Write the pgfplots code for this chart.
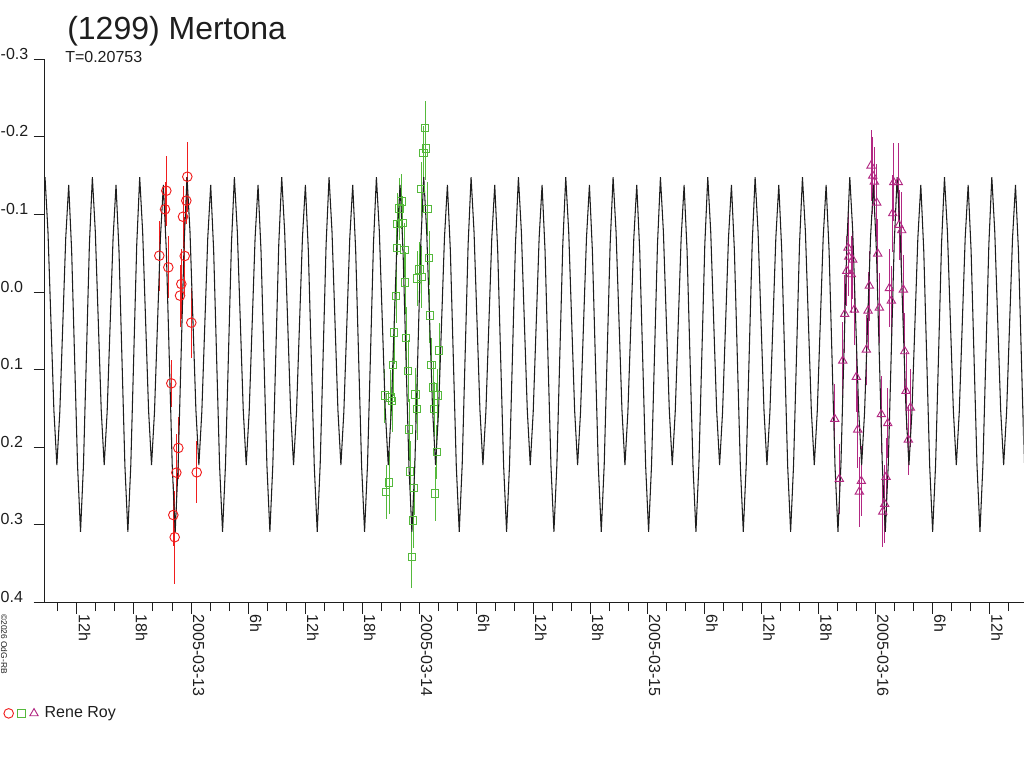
\documentclass[border=0pt]{standalone}
\usepackage{fontspec}
\setmainfont{Liberation Sans}
\usepackage{pgfplots}
\pgfplotsset{compat=1.18}
\definecolor{cred}{RGB}{240,30,30}
\definecolor{cgreen}{RGB}{85,185,60}
\definecolor{cmag}{RGB}{178,40,130}
\definecolor{ccurve}{RGB}{30,30,30}
\begin{document}
\begin{tikzpicture}
\path[use as bounding box] (0bp,0bp) rectangle (768bp,576bp);
\begin{axis}[
  at={(33.75bp,124.2bp)}, anchor=south west,
  scale only axis, width=733.9bp, height=407.4bp,
  xmin=-0.6401, xmax=3.6497, ymin=-0.3, ymax=0.4, y dir=reverse,
  axis x line=bottom, axis y line=left,
  axis line style={-, line width=0.75bp, color=ccurve},
  tick align=outside, major tick length=8.5bp, minor tick length=6.5bp,
  every tick/.style={line width=0.75bp, color=ccurve},
  xtick={-0.5,-0.25,...,3.5},
  xticklabels={12h,18h,2005-03-13,6h,12h,18h,2005-03-14,6h,12h,18h,2005-03-15,6h,12h,18h,2005-03-16,6h,12h},
  minor xtick={-0.58333,-0.5,...,3.6},
  ytick={-0.3,-0.2,-0.1,0,0.1,0.2,0.3,0.4},
  yticklabels={-0.3,-0.2,-0.1,0.0,0.1,0.2,0.3,0.4},
  tick label style={font=\fontsize{12bp}{14bp}\selectfont, color=ccurve, inner sep=0pt},
  xticklabel style={xshift=1.5bp, yshift=-0.5bp, rotate=-90, anchor=base west},
  yticklabel style={xshift=-24.9bp, anchor=base west},
  legend columns=3,
  legend style={draw=none, fill=none, inner sep=0pt, outer sep=0pt,
    at={(axis description cs:-0.0429,-0.2043)}, anchor=west,
    font=\fontsize{12bp}{14bp}\selectfont, text=ccurve,
    nodes={inner sep=0pt},
    /tikz/every even column/.style={column sep=0pt},
    /tikz/every odd column/.style={column sep=0pt}},
  legend image code/.code={\path (-3.9bp,0bp) (3.9bp,0bp); \draw[#1] plot coordinates {(0bp,0bp)};},
]
\addplot[only marks, mark=o, mark size=3.6bp, cred, line width=0.7bp,
  error bars/.cd, y dir=both, y explicit, error mark=none]
  table[x=x, y=y, y error=e] {
x y e
-0.1083 -0.1305 0.045
-0.1140 -0.1066 0.035
-0.0162 -0.1486 0.045
-0.0206 -0.1177 0.030
-0.0351 -0.0970 0.040
-0.1390 -0.0468 0.045
-0.0276 -0.0464 0.050
-0.0995 -0.0318 0.040
-0.0425 -0.0103 0.045
-0.0482 0.0047 0.040
0.0013 0.0395 0.045
-0.0864 0.1177 0.030
-0.0557 0.2010 0.040
-0.0644 0.2328 0.050
0.0250 0.2324 0.040
-0.0776 0.2874 0.040
-0.0715 0.3160 0.060
};
\addlegendentry{}
\addplot[only marks, mark=square, mark size=2.8bp, cgreen, line width=0.7bp,
  error bars/.cd, y dir=both, y explicit, error mark=none]
  table[x=x, y=y, y error=e] {
x y e
1.0259 -0.2117 0.035
1.0289 -0.1847 0.040
1.0184 -0.1795 0.035
1.0083 -0.1331 0.035
0.9220 -0.1168 0.035
0.9132 -0.1074 0.040
1.0359 -0.1070 0.035
0.9263 -0.0893 0.035
0.9044 -0.0880 0.040
0.9018 -0.0571 0.035
0.9351 -0.0545 0.035
1.0434 -0.0442 0.035
1.0009 -0.0292 0.035
1.0096 -0.0197 0.040
0.9921 -0.0176 0.035
0.9382 -0.0120 0.040
0.8987 0.0048 0.035
1.0465 0.0305 0.035
0.8900 0.0524 0.040
0.9426 0.0589 0.040
1.0872 0.0752 0.035
0.8856 0.0937 0.040
0.9513 0.1018 0.040
1.0535 0.0941 0.035
0.8492 0.1336 0.035
0.8737 0.1357 0.035
0.8812 0.1405 0.040
0.9833 0.1323 0.035
1.0609 0.1233 0.035
1.0815 0.1336 0.035
0.9908 0.1504 0.040
1.0653 0.1508 0.035
0.9557 0.1774 0.040
1.0772 0.2058 0.035
0.9601 0.2315 0.040
0.9776 0.2522 0.035
0.8680 0.2457 0.040
0.8549 0.2577 0.035
1.0697 0.2599 0.035
0.9733 0.2947 0.035
0.9676 0.3411 0.040
};
\addlegendentry{}
\addplot[only marks, mark=triangle, mark size=3.6bp, cmag, line width=0.7bp,
  error bars/.cd, y dir=both, y explicit, error mark=none]
  table[x=x, y=y, y error=e] {
x y e
2.9811 -0.1628 0.046
2.9886 -0.1499 0.050
2.9956 -0.1422 0.045
3.0061 -0.1151 0.050
3.0807 -0.1414 0.050
3.1008 -0.1414 0.050
3.0763 -0.1014 0.050
3.1039 -0.0863 0.045
3.1157 -0.0795 0.050
3.0105 -0.0494 0.045
2.8803 -0.0571 0.050
2.8834 -0.0455 0.050
2.9010 -0.0416 0.050
2.8746 -0.0271 0.045
2.8948 -0.0228 0.050
2.9737 -0.0081 0.045
3.0614 -0.0048 0.050
3.1228 -0.0030 0.045
3.0701 0.0112 0.045
3.0175 0.0202 0.045
2.9079 0.0228 0.045
2.9680 0.0241 0.050
2.8658 0.0284 0.050
2.9605 0.0744 0.045
3.1289 0.0765 0.050
2.8571 0.0885 0.050
2.9167 0.1095 0.045
3.1346 0.1276 0.050
3.1535 0.1491 0.050
3.1447 0.1903 0.045
2.8220 0.1637 0.045
3.0263 0.1576 0.050
3.0543 0.1692 0.045
2.9228 0.1774 0.050
2.8422 0.2410 0.045
2.9386 0.2436 0.045
2.9299 0.2573 0.045
3.0469 0.2384 0.050
3.0412 0.2732 0.050
3.0325 0.2831 0.045
};
\addlegendentry{\hspace{3.75bp}Rene Roy}
\addplot[forget plot, ccurve, line width=0.8bp, mark=none] coordinates {
(-0.64000,-0.148) (-0.62703,-0.0775) (-0.61406,0.0375) (-0.60109,0.1525) (-0.58812,0.223) (-0.57515,0.1544) (-0.56218,0.0425) (-0.54921,-0.0694) (-0.53623,-0.138) (-0.52326,-0.0531) (-0.51029,0.0855) (-0.49732,0.2241) (-0.48435,0.309) (-0.47138,0.2222) (-0.45841,0.0805) (-0.44544,-0.0612)
(-0.43247,-0.148) (-0.41950,-0.0775) (-0.40653,0.0375) (-0.39356,0.1525) (-0.38059,0.223) (-0.36762,0.1544) (-0.35465,0.0425) (-0.34168,-0.0694) (-0.32870,-0.138) (-0.31573,-0.0531) (-0.30276,0.0855) (-0.28979,0.2241) (-0.27682,0.309) (-0.26385,0.2222) (-0.25088,0.0805) (-0.23791,-0.0612)
(-0.22494,-0.148) (-0.21197,-0.0775) (-0.19900,0.0375) (-0.18603,0.1525) (-0.17306,0.223) (-0.16009,0.1544) (-0.14712,0.0425) (-0.13415,-0.0694) (-0.12117,-0.138) (-0.10820,-0.0531) (-0.09523,0.0855) (-0.08226,0.2241) (-0.06929,0.309) (-0.05632,0.2222) (-0.04335,0.0805) (-0.03038,-0.0612)
(-0.01741,-0.148) (-0.00444,-0.0775) (0.00853,0.0375) (0.02150,0.1525) (0.03447,0.223) (0.04744,0.1544) (0.06041,0.0425) (0.07338,-0.0694) (0.08636,-0.138) (0.09933,-0.0531) (0.11230,0.0855) (0.12527,0.2241) (0.13824,0.309) (0.15121,0.2222) (0.16418,0.0805) (0.17715,-0.0612)
(0.19012,-0.148) (0.20309,-0.0775) (0.21606,0.0375) (0.22903,0.1525) (0.24200,0.223) (0.25497,0.1544) (0.26794,0.0425) (0.28091,-0.0694) (0.29389,-0.138) (0.30686,-0.0531) (0.31983,0.0855) (0.33280,0.2241) (0.34577,0.309) (0.35874,0.2222) (0.37171,0.0805) (0.38468,-0.0612)
(0.39765,-0.148) (0.41062,-0.0775) (0.42359,0.0375) (0.43656,0.1525) (0.44953,0.223) (0.46250,0.1544) (0.47547,0.0425) (0.48844,-0.0694) (0.50142,-0.138) (0.51439,-0.0531) (0.52736,0.0855) (0.54033,0.2241) (0.55330,0.309) (0.56627,0.2222) (0.57924,0.0805) (0.59221,-0.0612)
(0.60518,-0.148) (0.61815,-0.0775) (0.63112,0.0375) (0.64409,0.1525) (0.65706,0.223) (0.67003,0.1544) (0.68300,0.0425) (0.69597,-0.0694) (0.70895,-0.138) (0.72192,-0.0531) (0.73489,0.0855) (0.74786,0.2241) (0.76083,0.309) (0.77380,0.2222) (0.78677,0.0805) (0.79974,-0.0612)
(0.81271,-0.148) (0.82568,-0.0775) (0.83865,0.0375) (0.85162,0.1525) (0.86459,0.223) (0.87756,0.1544) (0.89053,0.0425) (0.90350,-0.0694) (0.91648,-0.138) (0.92945,-0.0531) (0.94242,0.0855) (0.95539,0.2241) (0.96836,0.309) (0.98133,0.2222) (0.99430,0.0805) (1.00727,-0.0612)
(1.02024,-0.148) (1.03321,-0.0775) (1.04618,0.0375) (1.05915,0.1525) (1.07212,0.223) (1.08509,0.1544) (1.09806,0.0425) (1.11103,-0.0694) (1.12401,-0.138) (1.13698,-0.0531) (1.14995,0.0855) (1.16292,0.2241) (1.17589,0.309) (1.18886,0.2222) (1.20183,0.0805) (1.21480,-0.0612)
(1.22777,-0.148) (1.24074,-0.0775) (1.25371,0.0375) (1.26668,0.1525) (1.27965,0.223) (1.29262,0.1544) (1.30559,0.0425) (1.31856,-0.0694) (1.33154,-0.138) (1.34451,-0.0531) (1.35748,0.0855) (1.37045,0.2241) (1.38342,0.309) (1.39639,0.2222) (1.40936,0.0805) (1.42233,-0.0612)
(1.43530,-0.148) (1.44827,-0.0775) (1.46124,0.0375) (1.47421,0.1525) (1.48718,0.223) (1.50015,0.1544) (1.51312,0.0425) (1.52609,-0.0694) (1.53907,-0.138) (1.55204,-0.0531) (1.56501,0.0855) (1.57798,0.2241) (1.59095,0.309) (1.60392,0.2222) (1.61689,0.0805) (1.62986,-0.0612)
(1.64283,-0.148) (1.65580,-0.0775) (1.66877,0.0375) (1.68174,0.1525) (1.69471,0.223) (1.70768,0.1544) (1.72065,0.0425) (1.73362,-0.0694) (1.74660,-0.138) (1.75957,-0.0531) (1.77254,0.0855) (1.78551,0.2241) (1.79848,0.309) (1.81145,0.2222) (1.82442,0.0805) (1.83739,-0.0612)
(1.85036,-0.148) (1.86333,-0.0775) (1.87630,0.0375) (1.88927,0.1525) (1.90224,0.223) (1.91521,0.1544) (1.92818,0.0425) (1.94115,-0.0694) (1.95413,-0.138) (1.96710,-0.0531) (1.98007,0.0855) (1.99304,0.2241) (2.00601,0.309) (2.01898,0.2222) (2.03195,0.0805) (2.04492,-0.0612)
(2.05789,-0.148) (2.07086,-0.0775) (2.08383,0.0375) (2.09680,0.1525) (2.10977,0.223) (2.12274,0.1544) (2.13571,0.0425) (2.14868,-0.0694) (2.16166,-0.138) (2.17463,-0.0531) (2.18760,0.0855) (2.20057,0.2241) (2.21354,0.309) (2.22651,0.2222) (2.23948,0.0805) (2.25245,-0.0612)
(2.26542,-0.148) (2.27839,-0.0775) (2.29136,0.0375) (2.30433,0.1525) (2.31730,0.223) (2.33027,0.1544) (2.34324,0.0425) (2.35621,-0.0694) (2.36919,-0.138) (2.38216,-0.0531) (2.39513,0.0855) (2.40810,0.2241) (2.42107,0.309) (2.43404,0.2222) (2.44701,0.0805) (2.45998,-0.0612)
(2.47295,-0.148) (2.48592,-0.0775) (2.49889,0.0375) (2.51186,0.1525) (2.52483,0.223) (2.53780,0.1544) (2.55077,0.0425) (2.56374,-0.0694) (2.57672,-0.138) (2.58969,-0.0531) (2.60266,0.0855) (2.61563,0.2241) (2.62860,0.309) (2.64157,0.2222) (2.65454,0.0805) (2.66751,-0.0612)
(2.68048,-0.148) (2.69345,-0.0775) (2.70642,0.0375) (2.71939,0.1525) (2.73236,0.223) (2.74533,0.1544) (2.75830,0.0425) (2.77127,-0.0694) (2.78425,-0.138) (2.79722,-0.0531) (2.81019,0.0855) (2.82316,0.2241) (2.83613,0.309) (2.84910,0.2222) (2.86207,0.0805) (2.87504,-0.0612)
(2.88801,-0.148) (2.90098,-0.0775) (2.91395,0.0375) (2.92692,0.1525) (2.93989,0.223) (2.95286,0.1544) (2.96583,0.0425) (2.97880,-0.0694) (2.99178,-0.138) (3.00475,-0.0531) (3.01772,0.0855) (3.03069,0.2241) (3.04366,0.309) (3.05663,0.2222) (3.06960,0.0805) (3.08257,-0.0612)
(3.09554,-0.148) (3.10851,-0.0775) (3.12148,0.0375) (3.13445,0.1525) (3.14742,0.223) (3.16039,0.1544) (3.17336,0.0425) (3.18633,-0.0694) (3.19931,-0.138) (3.21228,-0.0531) (3.22525,0.0855) (3.23822,0.2241) (3.25119,0.309) (3.26416,0.2222) (3.27713,0.0805) (3.29010,-0.0612)
(3.30307,-0.148) (3.31604,-0.0775) (3.32901,0.0375) (3.34198,0.1525) (3.35495,0.223) (3.36792,0.1544) (3.38089,0.0425) (3.39386,-0.0694) (3.40684,-0.138) (3.41981,-0.0531) (3.43278,0.0855) (3.44575,0.2241) (3.45872,0.309) (3.47169,0.2222) (3.48466,0.0805) (3.49763,-0.0612)
(3.51060,-0.148) (3.52357,-0.0775) (3.53654,0.0375) (3.54951,0.1525) (3.56248,0.223) (3.57545,0.1544) (3.58842,0.0425) (3.60139,-0.0694) (3.61437,-0.138) (3.62734,-0.0531) (3.64031,0.0855) (3.65328,0.2241)
};
\end{axis}
\node[anchor=base west, inner sep=0pt, font=\fontsize{24bp}{28bp}\selectfont, text=ccurve] at (50.25bp,546bp) {(1299) Mertona};
\node[anchor=base west, inner sep=0pt, font=\fontsize{12bp}{14bp}\selectfont, text=ccurve] at (48.75bp,528.75bp) {T=0.20753};
\node[rotate=-90, anchor=base west, inner sep=0pt, font=\fontsize{6.3bp}{7bp}\selectfont, text=ccurve] at (0.75bp,115.5bp) {©2026 OdG-RB};
\end{tikzpicture}
\end{document}
